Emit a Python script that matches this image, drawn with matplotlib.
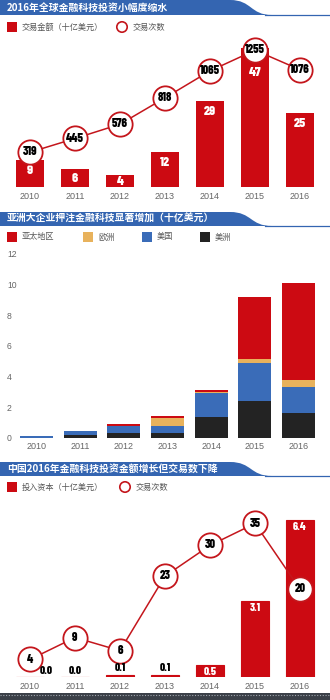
import numpy as np
import matplotlib
matplotlib.use('Agg')
import matplotlib.pyplot as plt
from matplotlib.patches import Rectangle, PathPatch, Circle
from matplotlib.path import Path

plt.rcParams['font.family'] = ['Noto Sans CJK SC', 'DejaVu Sans']

# ---- data ----
years = ['2010', '2011', '2012', '2013', '2014', '2015', '2016']

# 2016年全球金融科技投资小幅度缩水
global_amount = [9, 6, 4, 12, 29, 47, 25]          # 交易金额（十亿美元）
global_deals = [319, 445, 576, 818, 1065, 1255, 1076]  # 交易次数

# 亚洲大企业押注金融科技显著增加（十亿美元）
asia_americas = [0.03, 0.18, 0.30, 0.31, 1.40, 2.43, 1.65]  # 美洲
asia_us = [0.12, 0.27, 0.45, 0.49, 1.50, 2.47, 1.69]        # 美国
asia_europe = [0.00, 0.00, 0.05, 0.48, 0.07, 0.22, 0.44]    # 欧洲
asia_apac = [0.00, 0.00, 0.10, 0.15, 0.16, 4.05, 6.34]      # 亚太地区

# 中国2016年金融科技投资金额增长但交易数下降
china_amount = [0.0, 0.0, 0.1, 0.1, 0.5, 3.1, 6.4]  # 投入资本（十亿美元）
china_deals = [4, 9, 6, 23, 30, 35, 20]             # 交易次数

RED = '#cc0a12'
RED_LINE = '#c4161c'
BLUE = '#3465b1'
BLUE2 = '#3a6cb8'
ORANGE = '#e8b25c'
BLACK = '#232323'
GRAY = '#666666'
NUM_FONT = ['Barlow Condensed', 'Liberation Sans Narrow', 'DejaVu Sans']
TICK_FONT = ['Liberation Sans', 'DejaVu Sans']

W, H = 330, 700
fig = plt.figure(figsize=(W / 100, H / 100), dpi=100)


def px_axes(x0, y0, x1, y1):
    # 按像素位置放置坐标轴 (y 从上往下)
    ax = fig.add_axes([x0 / W, 1 - y1 / H, (x1 - x0) / W, (y1 - y0) / H])
    ax.patch.set_visible(False)
    for s in ax.spines.values():
        s.set_visible(False)
    return ax


# 背景层：标题条、图例
bg = fig.add_axes([0, 0, 1, 1])
bg.set_xlim(0, W)
bg.set_ylim(H, 0)
bg.axis('off')


def banner(top, bottom, text):
    verts = [(0, top), (230, top), (252, top), (250, bottom), (272, bottom), (0, bottom), (0, top)]
    codes = [Path.MOVETO, Path.LINETO, Path.CURVE4, Path.CURVE4, Path.CURVE4, Path.LINETO, Path.CLOSEPOLY]
    bg.add_patch(PathPatch(Path(verts, codes), fc=BLUE, ec='none'))
    bg.plot([265, W], [bottom - 0.5, bottom - 0.5], color=BLUE, lw=0.9)
    bg.text(7, (top + bottom) / 2, text, color='white', fontsize=7.1, fontweight='bold',
            va='center', ha='left')


def legend_square(x, y, color, label):
    bg.add_patch(Rectangle((x, y - 5), 10, 10, fc=color, ec='none'))
    bg.text(x + 15, y, label, fontsize=5.9, color='#555555', va='center', ha='left')


def legend_circle(x, y, label):
    bg.add_patch(Circle((x, y), 5.2, fc='white', ec=RED_LINE, lw=1.2))
    bg.text(x + 11, y, label, fontsize=5.9, color='#555555', va='center', ha='left')


def year_axis(ax, pad):
    ax.set_xticks(np.arange(len(years)))
    ax.set_xticklabels(years, fontsize=6.5, color=GRAY, family=TICK_FONT)
    ax.tick_params(axis='x', length=0, pad=pad)
    ax.set_xlim(-0.5, len(years) - 0.5)


def num_text(ax, s, xy, size, color, offset=(0, 0), xycoords='data'):
    ax.annotate(s, xy=xy, xycoords=xycoords, xytext=offset, textcoords='offset points',
                ha='center', va='center', fontsize=size, fontweight=800,
                family=NUM_FONT, color=color)


x = np.arange(len(years))

# ---------- 图1 ----------
banner(0, 15, '2016年全球金融科技投资小幅度缩水')
legend_square(7, 27, RED, '交易金额（十亿美元）')
legend_circle(122, 27, '交易次数')

ax1 = px_axes(7.5, 35, 322.5, 187)
ax1.bar(x, global_amount, width=0.62, color=RED)
ax1.set_ylim(0, 152 / 2.95)
ax1.set_yticks([])
year_axis(ax1, 3.6)
ax1b = ax1.twinx()
for s in ax1b.spines.values():
    s.set_visible(False)
ax1b.set_yticks([])
ax1b.set_ylim(0, 152 / 0.109)
ax1b.plot(x, global_deals, color=RED_LINE, lw=1.1, marker='o', ms=17.5, mfc='white',
          mec=RED_LINE, mew=1.3, clip_on=False)
for i, c in enumerate(global_deals):
    num_text(ax1b, str(c), (i, c), 8.8, 'black', offset=(0, 0.3))
for i, (v, c) in enumerate(zip(global_amount, global_deals)):
    base_y = ax1.transData.transform((i, 0))[1]
    top_y = ax1.transData.transform((i, v))[1]
    circ_y = ax1b.transData.transform((i, c))[1]
    if circ_y < top_y:
        # 圆圈压在柱子里时，数字放在圆圈下方
        num_text(ax1b, str(v), (i, c), 9.8, 'white', offset=(0, -16))
    else:
        # 矮柱子里数字居中
        drop = min(7.5, (top_y - base_y) / 2 * 0.72)
        num_text(ax1, str(v), (i, v), 9.8, 'white', offset=(0, -drop))

# ---------- 图2 ----------
banner(212, 226, '亚洲大企业押注金融科技显著增加（十亿美元）')
legend_square(7, 237, RED, '亚太地区')
legend_square(83, 237, ORANGE, '欧洲')
legend_square(142, 237, BLUE2, '美国')
legend_square(200, 237, BLACK, '美洲')

ax2 = px_axes(15, 248, 320, 438)
bottom = np.zeros(len(years))
for vals, color in [(asia_americas, BLACK), (asia_us, BLUE2), (asia_europe, ORANGE), (asia_apac, RED)]:
    ax2.bar(x, vals, bottom=bottom, width=0.76, color=color)
    bottom += np.array(vals)
ax2.set_ylim(0, 190 / 15.35)
ax2.set_yticks(range(0, 13, 2))
ax2.set_yticklabels([str(t) for t in range(0, 13, 2)], fontsize=6.2, color=GRAY, family=TICK_FONT)
for lbl in ax2.get_yticklabels():
    lbl.set_ha('left')
ax2.tick_params(axis='y', length=0, pad=5.8)
year_axis(ax2, 3.0)

# ---------- 图3 ----------
banner(462, 476, '中国2016年金融科技投资金额增长但交易数下降')
legend_square(7, 487, RED, '投入资本（十亿美元）')
legend_circle(125, 487, '交易次数')

ax3 = px_axes(7.5, 500, 322.5, 677)
ax3.bar(x, china_amount, width=0.62, color=RED, edgecolor=RED, linewidth=0.8)
ax3.set_ylim(0, 177 / 24.5)
ax3.set_yticks([])
year_axis(ax3, 3.6)
ax3b = ax3.twinx()
for s in ax3b.spines.values():
    s.set_visible(False)
ax3b.set_yticks([])
ax3b.set_ylim(0, 177 / 4.387)
ax3b.plot(x, china_deals, color=RED_LINE, lw=1.1, marker='o', ms=17.5, mfc='white',
          mec=RED_LINE, mew=1.3, clip_on=False)
for i, c in enumerate(china_deals):
    num_text(ax3b, str(c), (i, c), 8.8, 'black', offset=(0, 0.3))
for i, (v, c) in enumerate(zip(china_amount, china_deals)):
    if v >= 0.5:
        num_text(ax3b, f'{v:.1f}', (i, v), 8.2, 'white', offset=(0, -5), xycoords=ax3.transData)
    else:
        top_y = ax3.transData.transform((i, v))[1]
        circ_y = ax3b.transData.transform((i, c))[1]
        dx = 11.5 if abs(circ_y - (top_y + 6)) < 13 else 0
        num_text(ax3b, f'{v:.1f}', (i, v), 8.2, 'black', offset=(dx, 4.6), xycoords=ax3.transData)

# 底部点线
bg.add_patch(Rectangle((0, 693), W, 7, fc='#3b4048', ec='none'))
bg.plot([0, W], [694.5, 694.5], color='#a0a6ae', lw=0.8, ls=(0, (1, 1.5)))

fig.savefig('out.png', dpi=100)
